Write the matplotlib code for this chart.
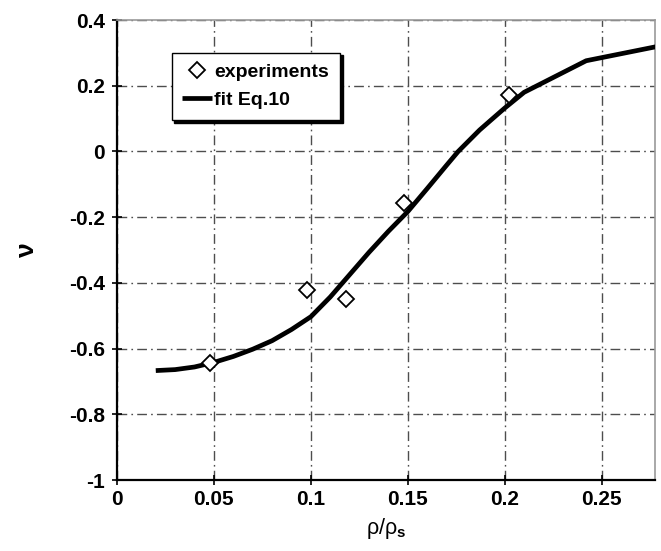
import matplotlib
matplotlib.use("Agg")
import matplotlib.pyplot as plt

# experimental points
exp_x = [0.048, 0.098, 0.118, 0.148, 0.202]
exp_y = [-0.645, -0.422, -0.450, -0.156, 0.172]

# fit curve (Eq. 10)
fit_x = [0.020, 0.030, 0.040, 0.050, 0.060, 0.070, 0.080, 0.090, 0.100, 0.110,
         0.120, 0.130, 0.140, 0.150, 0.160, 0.170, 0.176, 0.187, 0.193, 0.200,
         0.210, 0.242, 0.280]
fit_y = [-0.667, -0.664, -0.656, -0.642, -0.624, -0.602, -0.576, -0.542, -0.503, -0.443,
         -0.375, -0.307, -0.243, -0.183, -0.113, -0.042, 0.000, 0.065, 0.096, 0.132,
         0.180, 0.276, 0.321]

x_ticks = [0, 0.05, 0.1, 0.15, 0.2, 0.25]
x_ticklabels = ["0", "0.05", "0.1", "0.15", "0.2", "0.25"]
y_ticks = [-1, -0.8, -0.6, -0.4, -0.2, 0, 0.2, 0.4]
y_ticklabels = ["-1", "-0.8", "-0.6", "-0.4", "-0.2", "0", "0.2", "0.4"]

plt.rcParams['font.family'] = ['Liberation Sans', 'DejaVu Sans']
plt.rcParams['mathtext.fontset'] = 'custom'
plt.rcParams['mathtext.rm'] = 'Liberation Sans'
plt.rcParams['mathtext.bf'] = 'Liberation Sans:bold'

fig = plt.figure(figsize=(6.61, 5.51), dpi=100)
ax = fig.add_axes([117/661, 1 - 480/551, (655-117)/661, (480-20)/551])

ax.plot(fit_x, fit_y, color='black', lw=3.4, solid_capstyle='butt', zorder=3,
        label='fit Eq.10', clip_on=True)
ax.plot(exp_x, exp_y, linestyle='none', marker='D', markersize=8.5,
        markerfacecolor='white', markeredgecolor='black', markeredgewidth=1.3,
        zorder=4, label='experiments')

ax.set_xlim(0, 0.2775)
ax.set_ylim(-1, 0.4)
ax.set_xticks(x_ticks)
ax.set_xticklabels(x_ticklabels)
ax.set_yticks(y_ticks)
ax.set_yticklabels(y_ticklabels)

ax.grid(True, color='#4d4d4d', lw=1.0, linestyle=(0, (7, 3, 1.2, 3)))
ax.set_axisbelow(True)

for s in ['left', 'bottom']:
    ax.spines[s].set_color('black')
    ax.spines[s].set_linewidth(1.6)
for s in ['top', 'right']:
    ax.spines[s].set_color('#999999')
    ax.spines[s].set_linewidth(1.2)

ax.tick_params(axis='both', direction='inout', length=7, width=1.2, colors='black',
               labelsize=15)
ax.tick_params(axis='y', pad=5)
ax.tick_params(axis='x', pad=4)
ax.tick_params(top=False, right=False)
for lab in ax.get_xticklabels() + ax.get_yticklabels():
    lab.set_fontweight('bold')

ax.set_xlabel(r'ρ/ρ$_\mathbf{s}$', fontsize=15.5, labelpad=5)
ax.set_ylabel('ν', fontsize=19, fontweight='bold', labelpad=22)

handles, labels = ax.get_legend_handles_labels()
leg = ax.legend([handles[1], handles[0]], [labels[1], labels[0]],
                loc='upper left', bbox_to_anchor=(0.1017, 0.929), borderaxespad=0,
                fancybox=False, shadow={'color': 'black', 'alpha': 1},
                edgecolor='black', framealpha=1, prop={'weight': 'bold', 'size': 14},
                handlelength=1.5, handletextpad=0.15, borderpad=0.55, labelspacing=0.55)
leg.get_frame().set_linewidth(1.0)

fig.savefig('out.png', dpi=100)
